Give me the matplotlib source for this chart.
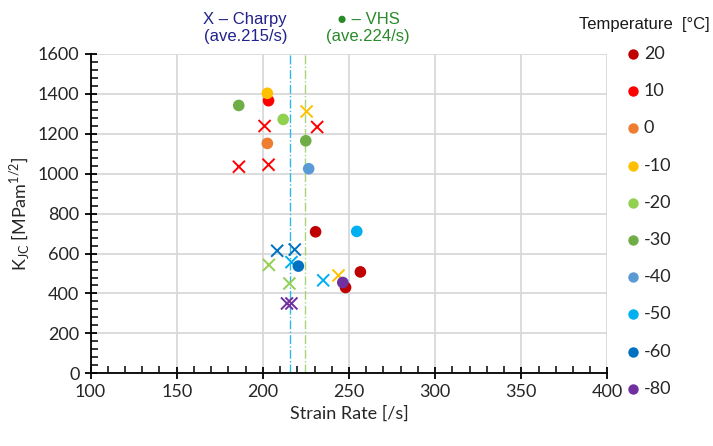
#!/usr/bin/env python3
"""
Fracture toughness K_JC vs strain rate, Charpy (X) and VHS (dots) tests,
coloured by test temperature.
"""

import matplotlib
matplotlib.use("Agg")
import matplotlib.pyplot as plt
from matplotlib.lines import Line2D
from matplotlib.ticker import MultipleLocator

# ---------------------- data ---------------------- #

temps = [20, 10, 0, -10, -20, -30, -40, -50, -60, -80]
temp_colors = ["#C00000", "#FF0000", "#ED7D31", "#FFC000", "#92D050",
               "#70AD47", "#5B9BD5", "#00B0F0", "#0070C0", "#7030A0"]

# VHS tests (circles)
vhs_rate = [203.3, 202.6, 186.0, 211.8, 202.6, 224.9, 226.6,
            230.6, 254.5, 220.6, 256.6, 248.0, 246.4]
vhs_kjc = [1366, 1403, 1342, 1272, 1152, 1165, 1025,
           709, 711, 537, 508, 430, 455]
vhs_temp = [10, -10, -30, -20, 0, -30, -40,
            20, -50, -60, 20, 20, -80]

# Charpy tests (crosses)
charpy_rate = [225.4, 201.0, 231.5, 186.1, 203.3,
               208.3, 218.5, 203.5, 216.6, 243.9, 235.0, 215.4, 214.0, 216.6]
charpy_kjc = [1312, 1239, 1234, 1035, 1045,
              614, 620, 543, 557, 490, 466, 450, 350, 350]
charpy_temp = [-10, 10, 10, 10, 10,
               -60, -60, -20, -50, -10, -50, -20, -80, -80]

charpy_ave = 216.0
vhs_ave = 224.6

color_of = dict(zip(temps, temp_colors))

# ---------------------- plot ---------------------- #

plt.rcParams["font.family"] = ["Lato", "DejaVu Sans"]

W, H = 713, 446
fig = plt.figure(figsize=(W / 100, H / 100), dpi=100)
ax = fig.add_axes([0.127, 0.163, 0.725, 0.716])

ax.axvline(charpy_ave, color="#2EB8E8", lw=1.0, ls="-.", zorder=1)
ax.axvline(vhs_ave, color="#A8D57A", lw=1.0, ls="-.", zorder=1)

ax.scatter(charpy_rate, charpy_kjc, s=75, c=[color_of[t] for t in charpy_temp],
           marker="x", linewidths=1.4, zorder=3)
ax.scatter(vhs_rate, vhs_kjc, s=70, c=[color_of[t] for t in vhs_temp],
           marker="o", linewidths=0, zorder=3)

ax.set_xlim(100, 400)
ax.set_ylim(0, 1600)
ax.xaxis.set_major_locator(MultipleLocator(50))
ax.xaxis.set_minor_locator(MultipleLocator(10))
ax.yaxis.set_major_locator(MultipleLocator(200))
ax.yaxis.set_minor_locator(MultipleLocator(40))

ax.grid(True, which="major", color="#D9D9D9", lw=1.3, zorder=0)
ax.set_axisbelow(True)
for side in ["top", "right"]:
    ax.spines[side].set_visible(False)
for side in ["left", "bottom"]:
    ax.spines[side].set_linewidth(1.3)
ax.tick_params(which="major", direction="inout", length=9, width=1.3,
               labelsize=13, labelcolor="#262626")
ax.tick_params(which="minor", direction="in", length=5, width=1.1)

ax.set_xlabel("Strain Rate [/s]", fontsize=13, color="#262626", labelpad=4)
ax.set_ylabel(r"K$_{\mathregular{JC}}$ [MPam$^{\mathregular{1/2}}$]",
              fontsize=13, color="#262626", labelpad=4)

# header notes
fig.text(0.344, 1 - 28 / H, "X – Charpy\n(ave.215/s)", ha="center", va="center",
         fontsize=12, color="#22228C", family="Liberation Sans", linespacing=1.2)
fig.text(0.516, 1 - 28 / H, "● – VHS\n(ave.224/s)", ha="center", va="center",
         fontsize=12, color="#2A8A2A", family=["Liberation Sans", "DejaVu Sans"],
         linespacing=1.2)

# temperature legend (drawn by hand to match the original spacing)
fig.text(710 / W, 1 - 25 / H, "Temperature  [°C]", ha="right", va="center",
         fontsize=12, color="#1A1A1A", family="Liberation Sans")
row_step = 37.2
for i, (t, c) in enumerate(zip(temps, temp_colors)):
    y = 1 - (54 + i * row_step) / H
    fig.add_artist(Line2D([632.5 / W], [y], transform=fig.transFigure,
                          marker="o", ls="", markersize=7.5, color=c,
                          markeredgewidth=0))
    fig.text(644 / W, y, str(t), ha="left", va="center", fontsize=13,
             color="#262626")

fig.savefig("out.png", dpi=100)
